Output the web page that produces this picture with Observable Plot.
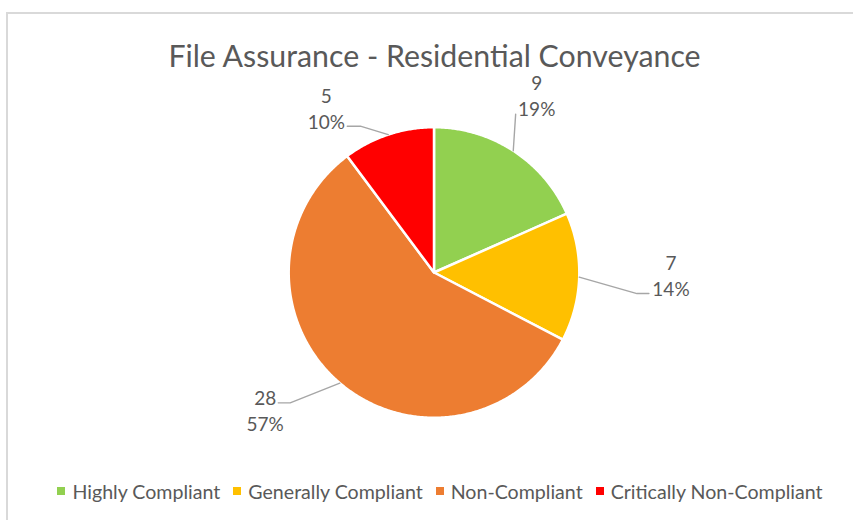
<!DOCTYPE html>
<html>
<head>
<meta charset="utf-8">
<script src="https://cdn.jsdelivr.net/npm/d3@7"></script>
<script src="https://cdn.jsdelivr.net/npm/@observablehq/plot@0.6"></script>
<style>
  html, body { margin: 0; padding: 0; background: #fff; }
  #wrap { position: relative; width: 853px; height: 520px; overflow: hidden; background: #fff; font-family: Lato, "Noto Sans", sans-serif; }
  #frame { position: absolute; left: 5.5px; top: 11.5px; width: 900px; height: 700px; border: 2px solid #d9d9d9; box-sizing: border-box; }
  #title { position: absolute; left: 8px; width: 853px; top: 39.5px; text-align: center; font-size: 30.3px; line-height: 30px; color: #595959; white-space: nowrap; }
  #chart { position: absolute; left: 0; top: 72px; width: 853px; height: 398px; }
  #legend { position: absolute; left: 13.5px; top: 470px; width: 853px; height: 42px; }
</style>
</head>
<body>
<div id="wrap">
  <div id="frame"></div>
  <div id="title"></div>
  <div id="chart"></div>
  <div id="legend"></div>
</div>
<script>
// ---- data ----
const chartTitle = "File Assurance - Residential Conveyance";
const categories = ["Highly Compliant", "Generally Compliant", "Non-Compliant", "Critically Non-Compliant"];
const counts = [9, 7, 28, 5];
const percentLabels = ["19%", "14%", "57%", "10%"];
const sliceColors = ["#92D050", "#FFC000", "#ED7D31", "#FF0000"];

// ---- layout (in pie-radius units, centre = 0,0, up = +y) ----
const W = 853, H = 398;
const cx = 433.5, cy = 200, R = 145.3;
const xDomain = [-cx / R, (W - cx) / R];
const yDomain = [-(H - cy) / R, cy / R];
// label block centres and leader-line bends, per slice
const labelLayout = [
  { lx: 0.707, ly: 1.221, bend: [[0.562, 1.090]] },
  { lx: 1.631, ly: -0.014, bend: [[1.397, -0.145], [1.479, -0.145]] },
  { lx: -1.162, ly: -0.941, bend: [[-0.990, -0.897], [-1.072, -0.897]] },
  { lx: -0.741, ly: 1.134, bend: [[-0.507, 1.007], [-0.597, 1.007]] }
];

document.getElementById("title").textContent = chartTitle;

const arcs = d3.pie().sort(null).value(d => d)(counts);

const slicePts = [];
const leaderPts = [];
const labelRows = [];
arcs.forEach((p, i) => {
  const cat = categories[i];
  slicePts.push({ cat, x: 0, y: 0 });
  const n = Math.max(4, Math.ceil((p.endAngle - p.startAngle) / (Math.PI / 360)));
  for (let k = 0; k <= n; k++) {
    const a = p.startAngle + (p.endAngle - p.startAngle) * k / n;
    slicePts.push({ cat, x: Math.sin(a), y: Math.cos(a) });
  }
  const mid = (p.startAngle + p.endAngle) / 2;
  leaderPts.push({ cat, x: Math.sin(mid), y: Math.cos(mid) });
  labelLayout[i].bend.forEach(([bx, by]) => leaderPts.push({ cat, x: bx, y: by }));
  labelRows.push({ cat, x: labelLayout[i].lx, y: labelLayout[i].ly, text: counts[i] + "\n" + percentLabels[i] });
});

const chart = Plot.plot({
  width: W,
  height: H,
  margin: 0,
  x: { domain: xDomain, axis: null },
  y: { domain: yDomain, axis: null },
  color: { domain: categories, range: sliceColors },
  style: { background: "transparent", overflow: "visible" },
  marks: [
    Plot.line(slicePts, { x: "x", y: "y", z: "cat", fill: "cat", stroke: "white", strokeWidth: 2.5, curve: "linear-closed", strokeLinejoin: "round" }),
    Plot.line(leaderPts, { x: "x", y: "y", z: "cat", stroke: "#a6a6a6", strokeWidth: 1.4 }),
    Plot.text(labelRows, { x: "x", y: "y", text: "text", fill: "#595959", fontSize: 19, fontFamily: "Lato", lineHeight: 1.37 })
  ]
});
document.getElementById("chart").appendChild(chart);

const legend = Plot.legend({
  color: { domain: categories, range: sliceColors },
  swatchSize: 8,
  style: { fontFamily: "Lato", fontSize: "19.6px", color: "#595959" }
});
legend.style.justifyContent = "center";
legend.style.height = "42px";
legend.style.minHeight = "42px";
legend.style.margin = "0";
legend.style.marginLeft = "0";
legend.style.paddingLeft = "0";
const swatchSvgs = legend.querySelectorAll("svg");
swatchSvgs.forEach((s, i) => {
  s.style.marginRight = "7px";
  s.parentElement.style.marginRight = i === swatchSvgs.length - 1 ? "0" : "13px";
});
document.getElementById("legend").appendChild(legend);
</script>
</body>
</html>
